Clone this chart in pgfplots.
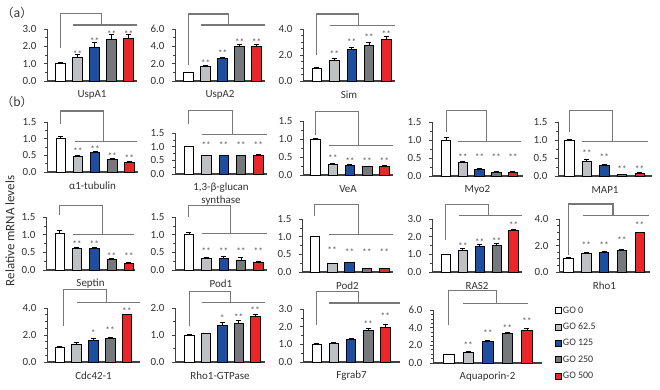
\documentclass[border=0pt]{standalone}
\usepackage{fontspec}
\setmainfont{Carlito}
\newfontfamily\cjk{Noto Sans CJK SC}
\usepackage{pgfplots}
\pgfplotsset{compat=1.18}

\definecolor{axgray}{RGB}{64,64,64}
\definecolor{labgray}{RGB}{50,50,50}
\definecolor{brgray}{RGB}{120,120,120}
\definecolor{stargray}{RGB}{85,85,85}
\definecolor{cwhite}{RGB}{255,255,255}
\definecolor{cgrey}{RGB}{190,192,195}
\definecolor{cblue}{RGB}{30,78,160}
\definecolor{cdgrey}{RGB}{118,121,124}
\definecolor{cred}{RGB}{236,38,40}

\tikzset{starstyle/.style={font=\fontsize{9.5}{10}\selectfont, text=stargray, anchor=base, yshift=-5bp, inner sep=0pt}}

\pgfplotsset{
  panel/.style={
    scale only axis, anchor=south west,
    axis x line=bottom, axis y line=left,
    axis line style={-},
    x axis line style={line width=1.3bp, draw=axgray},
    y axis line style={line width=0.8bp, draw=axgray},
    xtick=\empty, ymin=0, xmin=-0.8, xmax=4.5,
    tick align=outside, major tick length=3bp, minor tick length=2bp,
    ytick style={draw=axgray, line width=0.6bp},
    minor y tick num=1,
    yticklabel style={font=\fontsize{11}{12}\selectfont, text=labgray, xshift=-4bp},
    /pgf/number format/.cd, fixed, fixed zerofill, precision=1, assume math mode=true,
    /pgfplots/.cd,
    xlabel style={at={(axis description cs:0.5,0)}, anchor=center, yshift=-14bp,
      font=\fontsize{11}{13}\selectfont, align=center, text=labgray},
    clip=false,
    ybar, bar width=9.5bp, bar shift=0pt,
  },
}

\newcommand{\onebar}[6]{%
  \addplot[fill=#2, draw=black, line width=0.7bp,
    error bars/y dir=plus, error bars/y explicit,
    error bars/error bar style={line width=0.6bp, draw=black},
    error bars/error mark options={rotate=90, line width=0.6bp, mark size=2.5bp, draw=black}]
    coordinates {(#1,#3) +- (0,#4)};%
  \if\relax\detokenize{#6}\relax\else
    \node[starstyle] at (axis cs:#1,#6) {#5};%
  \fi
}
\newcommand{\bracket}[7]{%
  \draw[brgray, line width=1.1bp] (axis cs:#1,#2) -- (axis cs:#1,#3) -- (axis cs:#4,#3) -- (axis cs:#4,#5);%
  \draw[brgray, line width=1.1bp] (axis cs:#6,#5) -- (axis cs:#7,#5);%
}

\begin{document}
\begin{tikzpicture}
\useasboundingbox (0,0) rectangle (660bp,390bp);

% ---------------- (a) ----------------
\begin{axis}[panel, at={(47bp,309bp)}, width=90bp, height=52bp, ymax=3, ytick={0,1,2,3}, xlabel={UspA1}]
\onebar{0}{cwhite}{1.0}{0.05}{}{}
\onebar{1}{cgrey}{1.37}{0.15}{**}{1.63}
\onebar{2}{cblue}{1.94}{0.3}{**}{2.4}
\onebar{3}{cdgrey}{2.4}{0.28}{**}{2.81}
\onebar{4}{cred}{2.44}{0.28}{**}{2.81}
\bracket{0}{1.9}{3.87}{2.4}{3.23}{0.76}{4.5}
\end{axis}

\begin{axis}[panel, at={(175bp,309bp)}, width=90bp, height=52bp, ymax=6, ytick={0,2,4,6}, xlabel={UspA2}]
\onebar{0}{cwhite}{1.0}{0.05}{}{}
\onebar{1}{cgrey}{1.65}{0.12}{**}{2.23}
\onebar{2}{cblue}{2.57}{0.12}{**}{3.38}
\onebar{3}{cdgrey}{3.96}{0.3}{**}{4.73}
\onebar{4}{cred}{3.96}{0.3}{**}{4.73}
\bracket{0}{1.85}{7.73}{2.35}{6.46}{0.75}{4.5}
\end{axis}

\begin{axis}[panel, at={(303bp,309bp)}, width=92bp, height=52bp, ymax=4, ytick={0,2,4}, minor y tick num=3, xlabel={Sim}]
\onebar{0}{cwhite}{1.0}{0.05}{}{}
\onebar{1}{cgrey}{1.6}{0.12}{**}{2.2}
\onebar{2}{cblue}{2.46}{0.15}{**}{3.1}
\onebar{3}{cdgrey}{2.77}{0.18}{**}{3.48}
\onebar{4}{cred}{3.23}{0.18}{**}{3.74}
\bracket{0}{2.0}{5.15}{2.4}{4.3}{0.78}{4.5}
\end{axis}

% ---------------- (b) row 1 ----------------
\begin{axis}[panel, at={(47bp,218bp)}, width=91bp, height=50bp, ymax=1.5, ytick={0,0.5,1,1.5}, xlabel={α1-tubulin}]
\onebar{0}{cwhite}{1.0}{0.08}{}{}
\onebar{1}{cgrey}{0.48}{0.03}{**}{0.68}
\onebar{2}{cblue}{0.59}{0.04}{**}{0.73}
\onebar{3}{cdgrey}{0.38}{0.03}{**}{0.51}
\onebar{4}{cred}{0.30}{0.02}{**}{0.46}
\bracket{0}{1.44}{1.83}{2.5}{0.91}{0.84}{4.45}
\end{axis}

\begin{axis}[panel, at={(175bp,216bp)}, width=92bp, height=41bp, ymax=1.5, ytick={0,0.5,1,1.5}, xlabel={1,3-β-glucan\\synthase}, xlabel style={yshift=-6bp}]
\onebar{0}{cwhite}{1.0}{0.03}{}{}
\onebar{1}{cgrey}{0.67}{0.02}{**}{1.12}
\onebar{2}{cblue}{0.67}{0.02}{**}{1.12}
\onebar{3}{cdgrey}{0.67}{0.02}{**}{1.12}
\onebar{4}{cred}{0.68}{0.05}{**}{1.12}
\bracket{0}{1.82}{2.31}{2.5}{1.45}{0.78}{4.5}
\end{axis}

\begin{axis}[panel, at={(303bp,215bp)}, width=90bp, height=54bp, xmin=-0.73, ymax=1.5, ytick={0,0.5,1,1.5}, xlabel={VeA}]
\onebar{0}{cwhite}{1.0}{0.02}{}{}
\onebar{1}{cgrey}{0.30}{0.02}{**}{0.5}
\onebar{2}{cblue}{0.27}{0.03}{**}{0.43}
\onebar{3}{cdgrey}{0.23}{0.02}{**}{0.43}
\onebar{4}{cred}{0.25}{0.03}{**}{0.43}
\bracket{0}{1.12}{1.77}{2.5}{0.81}{0.78}{4.5}
\end{axis}

\begin{axis}[panel, at={(432bp,214bp)}, width=91bp, height=54bp, xmin=-0.84, xmax=4.6, ymax=1.5, ytick={0,0.5,1,1.5}, xlabel={Myo2}]
\onebar{0}{cwhite}{1.0}{0.07}{}{}
\onebar{1}{cgrey}{0.39}{0.02}{**}{0.58}
\onebar{2}{cblue}{0.19}{0.02}{**}{0.58}
\onebar{3}{cdgrey}{0.11}{0.02}{**}{0.58}
\onebar{4}{cred}{0.10}{0.02}{**}{0.58}
\bracket{0}{1.22}{1.82}{2.43}{0.96}{0.72}{4.5}
\end{axis}

\begin{axis}[panel, at={(558bp,214bp)}, width=94bp, height=54bp, xmin=-0.63, xmax=4.7, ymax=1.5, ytick={0,0.5,1,1.5}, xlabel={MAP1}]
\onebar{0}{cwhite}{1.0}{0.02}{}{}
\onebar{1}{cgrey}{0.42}{0.03}{**}{0.68}
\onebar{2}{cblue}{0.29}{0.04}{**}{0.56}
\onebar{3}{cdgrey}{0.04}{0.02}{**}{0.23}
\onebar{4}{cred}{0.08}{0.02}{**}{0.23}
\bracket{0}{1.23}{1.82}{2.45}{0.96}{0.75}{4.5}
\end{axis}

% ---------------- (b) row 2 ----------------
\begin{axis}[panel, at={(46bp,120bp)}, width=89bp, height=53bp, xmin=-0.79, xmax=4.35, ymax=1.5, ytick={0,0.5,1,1.5}, xlabel={Septin}]
\onebar{0}{cwhite}{1.03}{0.08}{}{}
\onebar{1}{cgrey}{0.61}{0.02}{**}{0.77}
\onebar{2}{cblue}{0.60}{0.04}{**}{0.77}
\onebar{3}{cdgrey}{0.30}{0.02}{**}{0.45}
\onebar{4}{cred}{0.19}{0.02}{**}{0.45}
\bracket{0}{1.55}{1.83}{2.45}{1.0}{0.78}{4.3}
\end{axis}

\begin{axis}[panel, at={(175bp,120bp)}, width=92bp, height=53bp, ymax=1.5, ytick={0,0.5,1,1.5}, xlabel={Pod1}]
\onebar{0}{cwhite}{1.0}{0.08}{}{}
\onebar{1}{cgrey}{0.33}{0.04}{**}{0.59}
\onebar{2}{cblue}{0.33}{0.07}{**}{0.59}
\onebar{3}{cdgrey}{0.28}{0.07}{**}{0.59}
\onebar{4}{cred}{0.23}{0.02}{**}{0.59}
\bracket{0}{1.5}{1.83}{2.4}{1.03}{0.75}{4.5}
\end{axis}

\begin{axis}[panel, at={(302bp,118bp)}, width=91bp, height=53bp, xmin=-0.73, ymax=1.5, ytick={0,0.5,1,1.5}, xlabel={Pod2}]
\onebar{0}{cwhite}{1.0}{0.02}{}{}
\onebar{1}{cgrey}{0.25}{0.01}{**}{0.67}
\onebar{2}{cblue}{0.26}{0.01}{**}{0.6}
\onebar{3}{cdgrey}{0.09}{0.01}{**}{0.6}
\onebar{4}{cred}{0.09}{0.01}{**}{0.6}
\bracket{0}{1.59}{1.91}{2.5}{1.07}{0.8}{4.5}
\end{axis}

\begin{axis}[panel, at={(432bp,118bp)}, width=90bp, height=53bp, xmin=-0.82, ymax=3, ytick={0,1,2,3}, xlabel={RAS2}]
\onebar{0}{cwhite}{1.0}{0.03}{}{}
\onebar{1}{cgrey}{1.24}{0.1}{**}{1.58}
\onebar{2}{cblue}{1.47}{0.07}{**}{1.81}
\onebar{3}{cdgrey}{1.53}{0.08}{**}{1.85}
\onebar{4}{cred}{2.38}{0.06}{**}{2.73}
\bracket{0}{1.81}{3.81}{2.5}{3.2}{0.75}{4.5}
\end{axis}

\begin{axis}[panel, at={(559bp,118bp)}, width=91bp, height=53bp, xmin=-0.53, xmax=4.58, ymax=4, ytick={0,2,4}, minor y tick num=3, xlabel={Rho1}]
\onebar{0}{cwhite}{1.0}{0.1}{}{}
\onebar{1}{cgrey}{1.44}{0.08}{**}{2.15}
\onebar{2}{cblue}{1.49}{0.05}{**}{2.15}
\onebar{3}{cdgrey}{1.60}{0.08}{**}{2.5}
\onebar{4}{cred}{2.96}{0.05}{**}{3.67}
\bracket{0}{1.27}{5.13}{2.5}{4.24}{0.8}{4.5}
\end{axis}

% ---------------- (b) row 3 ----------------
\begin{axis}[panel, at={(47bp,28bp)}, width=93bp, height=54bp, xmin=-0.76, xmax=4.78, ymax=4, ytick={0,2,4}, minor y tick num=3, xlabel={Cdc42-1}]
\onebar{0}{cwhite}{1.05}{0.08}{}{}
\onebar{1}{cgrey}{1.33}{0.1}{}{}
\onebar{2}{cblue}{1.63}{0.12}{*}{2.26}
\onebar{3}{cdgrey}{1.75}{0.05}{**}{2.5}
\onebar{4}{cred}{3.5}{0.05}{**}{3.89}
\bracket{0.2}{2.7}{5.39}{2.8}{4.39}{1.05}{4.78}
\end{axis}

\begin{axis}[panel, at={(175bp,28bp)}, width=90bp, height=54bp, xmin=-0.86, xmax=4.6, ymax=2, ytick={0,1,2}, xlabel={Rho1-GTPase}]
\onebar{0}{cwhite}{1.0}{0.04}{}{}
\onebar{1}{cgrey}{1.06}{0.02}{}{}
\onebar{2}{cblue}{1.37}{0.1}{*}{1.69}
\onebar{3}{cdgrey}{1.44}{0.1}{**}{1.72}
\onebar{4}{cred}{1.69}{0.08}{**}{1.97}
\bracket{0}{1.35}{2.6}{2.5}{2.19}{0.76}{4.6}
\end{axis}

\begin{axis}[panel, at={(303bp,28bp)}, width=97bp, height=53bp, xmax=4.85, ymax=3, ytick={0,1,2,3}, xlabel={Fgrab7}]
\onebar{0}{cwhite}{1.0}{0.05}{}{}
\onebar{1}{cgrey}{1.07}{0.06}{}{}
\onebar{2}{cblue}{1.26}{0.06}{}{}
\onebar{3}{cdgrey}{1.79}{0.1}{**}{2.26}
\onebar{4}{cred}{1.98}{0.15}{**}{2.68}
\bracket{0}{2.11}{4.0}{2.42}{3.34}{0.72}{4.85}
\end{axis}

\begin{axis}[panel, at={(433bp,27bp)}, width=109bp, height=53bp, xmax=4.77, bar width=10.5bp, ymax=6, ytick={0,2,4,6}, minor y tick num=3, xlabel={Aquaporin-2},
  legend style={at={(axis description cs:1.12,1.094)}, anchor=north west, draw=none, fill=none, inner sep=0pt,
    row sep=5.3bp, font=\fontsize{10}{11}\selectfont, text=labgray,
    nodes={inner sep=1bp, text height=7bp, text depth=2bp}},
  legend cell align=left,
  legend image code/.code={\draw[#1, line width=0.7bp] (0bp,-3bp) rectangle (6bp,3bp);}]
\onebar{0}{cwhite}{1.0}{0.03}{}{}
\addlegendentry{GO 0}
\onebar{1}{cgrey}{1.24}{0.1}{**}{2.25}
\addlegendentry{GO 62.5}
\onebar{2}{cblue}{2.43}{0.1}{**}{3.56}
\addlegendentry{GO 125}
\onebar{3}{cdgrey}{3.38}{0.1}{**}{4.12}
\addlegendentry{GO 250}
\onebar{4}{cred}{3.75}{0.2}{**}{4.88}
\addlegendentry{GO 500}
\bracket{0}{4.3}{8.18}{2.46}{6.76}{0.72}{4.05}
\end{axis}

% ---------------- labels ----------------
\node[font=\cjk\fontsize{12}{14}\selectfont, text=labgray] at (17bp,377bp) {（a）};
\node[font=\cjk\fontsize{12}{14}\selectfont, text=labgray] at (17bp,288bp) {（b）};
\node[rotate=90, font=\fontsize{13}{15}\selectfont, text=labgray] at (10bp,159bp) {Relative mRNA levels};
\end{tikzpicture}
\end{document}
